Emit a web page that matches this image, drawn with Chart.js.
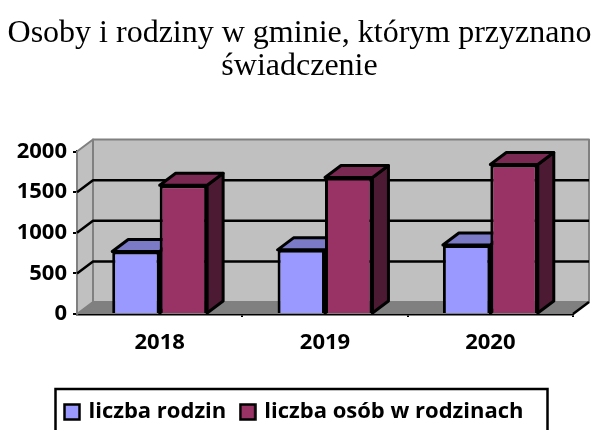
<!DOCTYPE html>
<html>
<head>
<meta charset="utf-8">
<style>html,body{margin:0;padding:0;background:#fff;overflow:hidden}canvas{display:block}</style>
<script src="https://cdn.jsdelivr.net/npm/chart.js@4/dist/chart.umd.min.js"></script>
</head>
<body>
<canvas id="c" width="592" height="430"></canvas>
<script>
const categories = ['2018', '2019', '2020'];
const liczbaRodzin = [770, 790, 850];
const liczbaOsob = [1585, 1680, 1840];
const seriesNames = ['liczba rodzin', 'liczba osób w rodzinach'];
const titleLines = ['Osoby i rodziny w gminie, którym przyznano', 'świadczenie'];
const depthX = 16, depthY = 12;
const faceColors = [
  {top: '#7a7ac6', side: '#5c5c99'},
  {top: '#7a2952', side: '#4d1a33'}
];
const tickFont = {family: '"Open Sans"', size: 22, weight: 'bold'};

function poly(ctx, pts, fill, stroke, lw) {
  ctx.beginPath();
  pts.forEach((p, i) => i ? ctx.lineTo(p[0], p[1]) : ctx.moveTo(p[0], p[1]));
  ctx.closePath();
  if (fill) { ctx.fillStyle = fill; ctx.fill(); }
  if (stroke) { ctx.strokeStyle = stroke; ctx.lineWidth = lw; ctx.lineJoin = 'round'; ctx.stroke(); }
}

function legendSwatch(color) {
  const s = document.createElement('canvas');
  s.width = 18; s.height = 18;
  const g = s.getContext('2d');
  g.fillStyle = color;
  g.strokeStyle = '#000';
  g.lineWidth = 2.5;
  g.fillRect(1.5, 1.5, 15, 15);
  g.strokeRect(1.5, 1.5, 15, 15);
  return s;
}

const box3d = {
  id: 'box3d',
  afterLayout(chart) {
    const lg = chart.legend, tb = chart.titleBlock;
    tb.right += 26;
    lg.left += 8.5; lg.right += 8.5;
    lg.top += 3; lg.bottom += 3;
  },
  beforeDatasetsDraw(chart) {
    const ctx = chart.ctx, a = chart.chartArea, y = chart.scales.y;
    const dx = depthX, dy = depthY;
    ctx.save();
    // back wall, side wall, floor
    poly(ctx, [[a.left + dx, a.top - dy], [a.right + dx, a.top - dy], [a.right + dx, a.bottom - dy], [a.left + dx, a.bottom - dy]], '#c0c0c0', '#808080', 2);
    poly(ctx, [[a.left, a.top], [a.left + dx, a.top - dy], [a.left + dx, a.bottom - dy], [a.left, a.bottom]], '#c0c0c0', '#808080', 2);
    poly(ctx, [[a.left, a.bottom], [a.left + dx, a.bottom - dy], [a.right + dx, a.bottom - dy], [a.right, a.bottom]], '#808080', null, 0);
    ctx.strokeStyle = '#000'; ctx.lineWidth = 2.5;
    ctx.beginPath();
    ctx.moveTo(a.right, a.bottom); ctx.lineTo(a.right + dx, a.bottom - dy);
    y.ticks.forEach(t => {
      if (t.value === 0 || t.value === y.max) return;
      const py = y.getPixelForValue(t.value);
      ctx.moveTo(a.left, py);
      ctx.lineTo(a.left + dx, py - dy);
      ctx.lineTo(a.right + dx, py - dy);
    });
    ctx.stroke();
    // bar top and side faces
    chart.data.datasets.forEach((ds, i) => {
      chart.getDatasetMeta(i).data.forEach(bar => {
        const l = bar.x - bar.width / 2, r = bar.x + bar.width / 2, t = bar.y, b = bar.base;
        poly(ctx, [[r, t], [r + dx, t - dy], [r + dx, b - dy], [r, b]], faceColors[i].side, '#000', 3);
        poly(ctx, [[l, t], [l + dx, t - dy], [r + dx, t - dy], [r, t]], faceColors[i].top, '#000', 3);
      });
    });
    ctx.restore();
  },
  afterDraw(chart) {
    const ctx = chart.ctx;
    ctx.save();
    ctx.strokeStyle = '#000'; ctx.lineWidth = 2.5;
    ctx.strokeRect(55.5, 389, 492, 60);
    ctx.restore();
  }
};

new Chart(document.getElementById('c'), {
  type: 'bar',
  data: {
    labels: categories,
    datasets: [
      {label: seriesNames[0], data: liczbaRodzin, backgroundColor: '#9999ff', borderColor: '#000', borderWidth: 3},
      {label: seriesNames[1], data: liczbaOsob, backgroundColor: '#993366', borderColor: '#000', borderWidth: 3}
    ]
  },
  options: {
    responsive: false,
    animation: false,
    layout: {padding: {left: 0, right: 19, top: 0, bottom: 0}},
    datasets: {bar: {categoryPercentage: 0.574, barPercentage: 1}},
    plugins: {
      tooltip: {enabled: false},
      title: {
        display: true,
        text: titleLines,
        color: '#000',
        font: {family: '"Liberation Serif"', size: 32, weight: 'normal', lineHeight: 1.04},
        padding: {top: 17, bottom: 68}
      },
      legend: {
        position: 'bottom',
        labels: {
          color: '#000',
          font: tickFont,
          usePointStyle: true,
          pointStyleWidth: 11,
          boxHeight: 16,
          padding: 16,
          generateLabels(chart) {
            return chart.data.datasets.map((d, i) => ({
              text: d.label, pointStyle: legendSwatch(d.backgroundColor), datasetIndex: i, fontColor: '#000', lineWidth: 0
            }));
          }
        }
      }
    },
    scales: {
      x: {
        afterFit(s) { s.height = 68; },
        grid: {
          drawOnChartArea: false, drawTicks: true, tickLength: 3, lineWidth: 2, color: '#000',
          tickColor: c => (c.index === 0 || c.index === categories.length) ? 'rgba(0,0,0,0)' : '#000'
        },
        border: {color: '#000', width: 2.5},
        ticks: {color: '#000', font: tickFont, padding: 13, maxRotation: 0}
      },
      y: {
        min: 0, max: 2000,
        afterFit(s) { s.width = 77; },
        grid: {drawOnChartArea: false, drawTicks: true, tickLength: 4, color: '#000', lineWidth: 2},
        border: {color: '#000', width: 2.5},
        ticks: {stepSize: 500, color: '#000', font: tickFont, padding: 6, callback: v => String(v)}
      }
    }
  },
  plugins: [box3d]
});
</script>
</body>
</html>
